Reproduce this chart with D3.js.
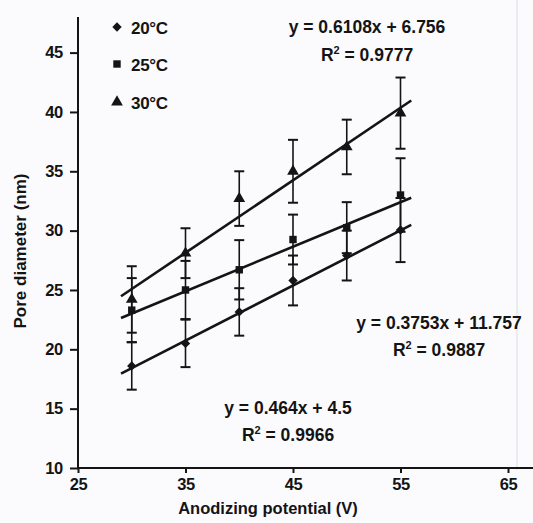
<!DOCTYPE html>
<html><head><meta charset="utf-8">
<script src="https://cdn.jsdelivr.net/npm/d3@7"></script>
<style>html,body{margin:0;padding:0;background:#fbfbfd;}svg{display:block;font-family:"Liberation Sans",Arial,sans-serif;}</style>
</head><body>
<script>
const xValues = [30, 35, 40, 45, 50, 55];
const seriesNames = ["20\u00B0C", "25\u00B0C", "30\u00B0C"];
const values20 = [18.6, 20.5, 23.15, 25.8, 27.9, 30.05];
const errors20 = [2.0, 2.0, 2.0, 2.1, 2.1, 2.7];
const values25 = [23.3, 25.0, 26.7, 29.25, 30.25, 33.0];
const errors25 = [2.7, 2.45, 2.5, 2.1, 2.15, 3.1];
const values30 = [24.2, 28.1, 32.7, 35.0, 37.05, 39.9];
const errors30 = [2.8, 2.1, 2.3, 2.65, 2.3, 3.0];
const slopes = [0.464, 0.3753, 0.6108];
const intercepts = [4.5, 11.757, 6.756];
const eqLabels = ["y = 0.464x + 4.5", "y = 0.3753x + 11.757", "y = 0.6108x + 6.756"];
const r2Labels = ["0.9966", "0.9887", "0.9777"];
const trendRange = [29, 56];
const xTicks = [25, 35, 45, 55, 65];
const yTicks = [10, 15, 20, 25, 30, 35, 40, 45];

const W = 533, H = 523;
const FONT = "Liberation Sans, Arial, sans-serif";
const svg = d3.select("body").append("svg").attr("width", W).attr("height", H);
svg.append("rect").attr("width", W).attr("height", H).attr("fill", "#fbfbfd");
// faint scan edge line
svg.append("line").attr("x1", 517).attr("x2", 517).attr("y1", 0).attr("y2", 470).attr("stroke", "#e6e6ee").attr("stroke-width", 1.5);

const x = d3.scaleLinear().domain([25, 70]).range([78, 561.75]);
const y = d3.scaleLinear().domain([10, 48]).range([468, 17]);
const ink = "#141414";

// axes
const yAxis = svg.append("g").attr("transform", `translate(${x(25)},0)`)
  .call(d3.axisLeft(y).tickValues(yTicks).tickSize(8).tickPadding(7));
const xAxis = svg.append("g").attr("transform", `translate(0,${y(10)})`)
  .call(d3.axisBottom(x).tickValues(xTicks).tickSize(5).tickPadding(5));
[yAxis, xAxis].forEach(g => {
  g.select(".domain").attr("stroke", ink).attr("stroke-width", 2);
  g.selectAll(".tick line").attr("stroke", ink).attr("stroke-width", 2);
  g.selectAll(".tick text").attr("fill", ink).attr("font-size", "16.5px").attr("font-weight", "bold")
    .attr("font-family", FONT).attr("letter-spacing", "-0.3px");
});
yAxis.select(".domain").attr("d", `M0,${y(10)}V${y(48)}`);
xAxis.select(".domain").attr("d", `M${x(25)},0H${W}`);

// axis titles
svg.append("text").attr("x", 268).attr("y", 514).attr("text-anchor", "middle")
  .attr("font-size", "16.5px").attr("font-weight", "bold").attr("fill", ink).text("Anodizing potential (V)");
svg.append("text").attr("transform", "translate(26,251) rotate(-90)").attr("text-anchor", "middle")
  .attr("font-size", "17px").attr("font-weight", "bold").attr("fill", ink).text("Pore diameter (nm)");

const series = [
  {vals: values20, errs: errors20, sym: d3.symbolSquare, size: 44, rot: 45},
  {vals: values25, errs: errors25, sym: d3.symbolSquare, size: 55, rot: 0},
  {vals: values30, errs: errors30, sym: d3.symbolTriangle, size: 60, rot: 0}
];

// error bars
series.forEach(s => {
  const g = svg.append("g").attr("stroke", ink).attr("stroke-width", 1.6);
  xValues.forEach((xv, i) => {
    const cx = x(xv), lo = y(s.vals[i] - s.errs[i]), hi = y(s.vals[i] + s.errs[i]);
    g.append("line").attr("x1", cx).attr("x2", cx).attr("y1", lo).attr("y2", hi);
    g.append("line").attr("x1", cx - 5).attr("x2", cx + 5).attr("y1", lo).attr("y2", lo).attr("stroke-width", 2);
    g.append("line").attr("x1", cx - 5).attr("x2", cx + 5).attr("y1", hi).attr("y2", hi).attr("stroke-width", 2);
  });
});

// trend lines
slopes.forEach((m, k) => {
  const pts = trendRange.map(xv => [x(xv), y(m * xv + intercepts[k])]);
  svg.append("path").attr("d", d3.line()(pts)).attr("stroke", ink).attr("stroke-width", 2.6).attr("fill", "none");
});

// markers
series.forEach(s => {
  svg.append("g").selectAll("path").data(xValues).join("path")
    .attr("transform", (d, i) => `translate(${x(d)},${y(s.vals[i])}) rotate(${s.rot})`)
    .attr("d", d3.symbol().type(s.sym).size(s.size)).attr("fill", ink);
});

// legend
const legY = [27, 64, 102];
seriesNames.forEach((n, k) => {
  svg.append("path").attr("transform", `translate(117,${legY[k]}) rotate(${series[k].rot})`)
    .attr("d", d3.symbol().type(series[k].sym).size(series[k].size)).attr("fill", ink);
  svg.append("text").attr("x", 131).attr("y", legY[k] + 6.5).attr("font-size", "17px")
    .attr("font-weight", "bold").attr("fill", ink).attr("letter-spacing", "-0.3px").text(n);
});

// equations
const eqPos = [[288, 414, 441], [439, 329, 356], [367, 33, 61]];
eqLabels.forEach((t, k) => {
  const [cx, y1, y2] = eqPos[k];
  svg.append("text").attr("x", cx).attr("y", y1).attr("text-anchor", "middle").attr("font-size", "17.5px")
    .attr("font-weight", "bold").attr("fill", ink).text(t);
  const r = svg.append("text").attr("x", cx).attr("y", y2).attr("text-anchor", "middle").attr("font-size", "17.5px")
    .attr("font-weight", "bold").attr("fill", ink);
  r.append("tspan").text("R");
  r.append("tspan").attr("dy", -7).attr("font-size", "11px").text("2");
  r.append("tspan").attr("dy", 7).text(" = " + r2Labels[k]);
});
</script>
</body></html>
